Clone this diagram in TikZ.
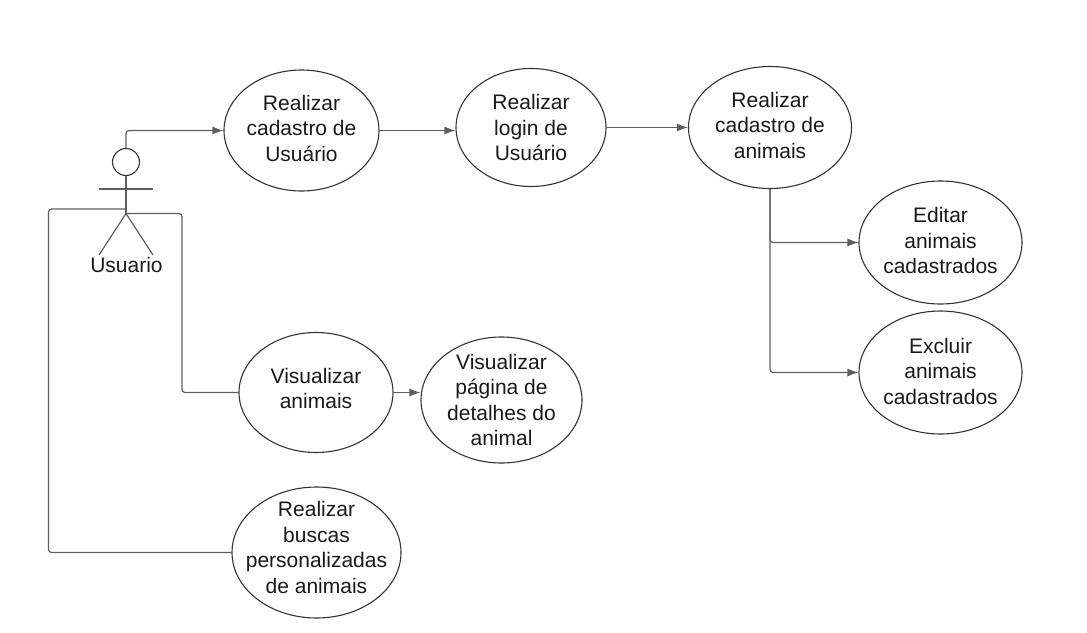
\documentclass[tikz,border=0pt]{standalone}
\usepackage{fontspec}
\setmainfont{Liberation Sans}
\usetikzlibrary{shapes.geometric,arrows.meta}
\definecolor{linegray}{HTML}{5E5E5E}
\definecolor{edgedark}{HTML}{333333}
\tikzset{
    usecase/.style={draw=edgedark,line width=1.1pt,ellipse,inner sep=-40pt,align=center,
        font=\fontsize{21}{25.5}\selectfont,text=black!90},
    flow/.style={draw=linegray,line width=1.2pt,rounded corners=3pt,-{Latex[length=11pt,width=8pt]}},
    plainflow/.style={draw=linegray,line width=1.2pt,rounded corners=3pt},
    actorline/.style={draw=linegray,line width=1.2pt}
}
\begin{document}
\begin{tikzpicture}[x=1pt,y=-1pt]

    \useasboundingbox (0,0) rectangle (1087,632);

    % Use cases
    \node[usecase,minimum width=155pt,minimum height=121pt] (cadUser) at (301.5,130.5) {Realizar\\cadastro de\\Usuário\\[-20.5pt]};
    \node[usecase,minimum width=150pt,minimum height=118pt] (login) at (531,127.5) {Realizar\\login de\\Usuário};
    \node[usecase,minimum width=163pt,minimum height=122pt] (cadAnimal) at (770,127.5) {Realizar\\cadastro de\\animais\\[-20.5pt]};
    \node[usecase,minimum width=163pt,minimum height=123pt] (edit) at (940.5,242.5) {Editar\\animais\\cadastrados\\[-21.5pt]};
    \node[usecase,minimum width=163pt,minimum height=123pt] (del) at (940.5,372.5) {Excluir\\animais\\cadastrados\\[-22.5pt]};
    \node[usecase,minimum width=154pt,minimum height=120pt] (view) at (316,392.5) {Visualizar\\animais\\[-17.5pt]};
    \node[usecase,minimum width=161pt,minimum height=126pt] (details) at (501.5,400) {Visualizar\\página de\\detalhes do\\animal};
    \node[usecase,minimum width=169pt,minimum height=131pt] (search) at (316.5,552.5) {Realizar\\buscas\\personalizadas\\de animais\\[-15.5pt]};

    % Actor
    \node[draw=edgedark,line width=1.1pt,circle,inner sep=0pt,minimum size=27pt] (head) at (126,162) {};
    \coordinate (hip) at (126,213.5);
    \coordinate (waist) at (126,209);
    \coordinate (armL) at (99,189);
    \coordinate (armR) at (153,189);
    \coordinate (footL) at (99,255);
    \coordinate (footR) at (153,255);
    \draw[actorline] (head) -- (hip);
    \draw[actorline] (armL) -- (armR);
    \draw[actorline] (footL) -- (hip) -- (footR);
    \node[font=\fontsize{21}{25.5}\selectfont,text=black!90] (userName) at (126.5,265) {Usuario};

    % Connectors
    \draw[flow] (head.north) |- (cadUser.west);
    \draw[flow] (cadUser.east) -- (login.west |- cadUser.east);
    \draw[flow] (login.east) -- (cadAnimal.west);
    \draw[flow] (cadAnimal.south) |- (edit.west);
    \draw[flow] (cadAnimal.south) |- (del.west);
    \draw[plainflow] (hip) -| (182,300) |- (view.west);
    \draw[plainflow] (waist) -| (48.5,400) |- (search.west);
    \draw[flow] (view.east) -- (details.west |- view.east);
\end{tikzpicture}
\end{document}
